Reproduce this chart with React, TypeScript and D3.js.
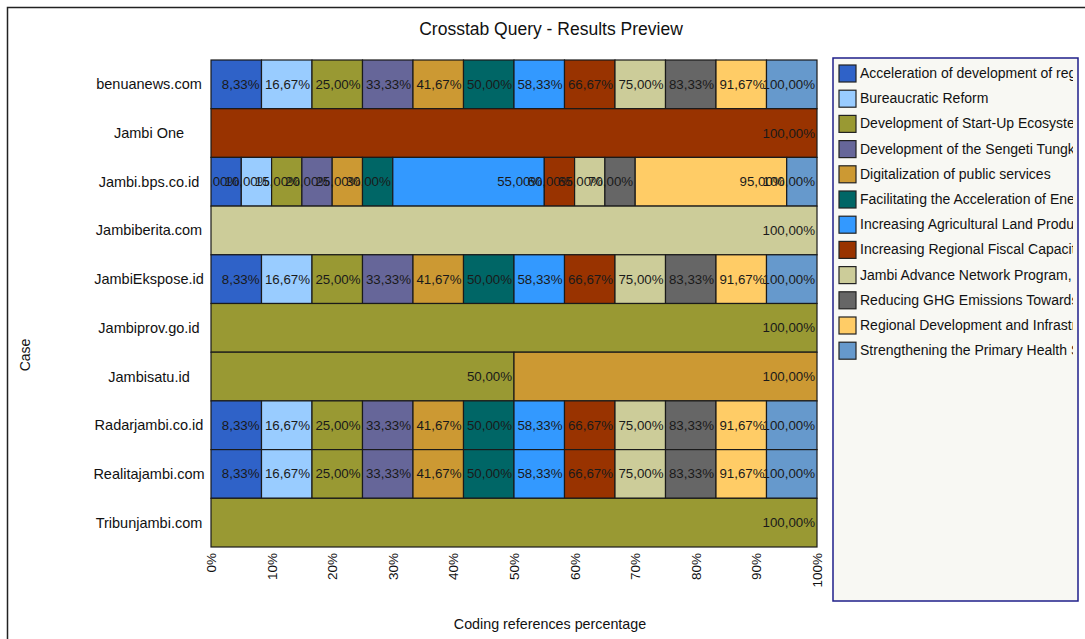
import { useEffect, useRef } from "react";
import * as d3 from "d3";

const WIDTH = 1085;
const HEIGHT = 639;
const PLOT = { LEFT: 211, RIGHT: 817, TOP: 60, BOTTOM: 547 };

const cases = [
  "benuanews.com",
  "Jambi One",
  "Jambi.bps.co.id",
  "Jambiberita.com",
  "JambiEkspose.id",
  "Jambiprov.go.id",
  "Jambisatu.id",
  "Radarjambi.co.id",
  "Realitajambi.com",
  "Tribunjambi.com",
];

const categories = [
  "Acceleration of development of regional infrastructure",
  "Bureaucratic Reform",
  "Development of Start-Up Ecosystem",
  "Development of the Sengeti Tungkal Corridor",
  "Digitalization of public services",
  "Facilitating the Acceleration of Energy Transition",
  "Increasing Agricultural Land Productivity",
  "Increasing Regional Fiscal Capacity",
  "Jambi Advance Network Program, and",
  "Reducing GHG Emissions Towards Net Zero",
  "Regional Development and Infrastructure",
  "Strengthening the Primary Health System",
];

const colors = [
  "#2F62C8",
  "#99CCFF",
  "#999933",
  "#666699",
  "#CC9933",
  "#006666",
  "#3399FF",
  "#993300",
  "#CCCC99",
  "#666666",
  "#FFCC66",
  "#6699CC",
];

// coding references per case, one count per category (same order as categories)
const references: number[][] = [
  [1, 1, 1, 1, 1, 1, 1, 1, 1, 1, 1, 1],
  [0, 0, 0, 0, 0, 0, 0, 1, 0, 0, 0, 0],
  [1, 1, 1, 1, 1, 1, 5, 1, 1, 1, 5, 1],
  [0, 0, 0, 0, 0, 0, 0, 0, 1, 0, 0, 0],
  [1, 1, 1, 1, 1, 1, 1, 1, 1, 1, 1, 1],
  [0, 0, 1, 0, 0, 0, 0, 0, 0, 0, 0, 0],
  [0, 0, 1, 0, 1, 0, 0, 0, 0, 0, 0, 0],
  [1, 1, 1, 1, 1, 1, 1, 1, 1, 1, 1, 1],
  [1, 1, 1, 1, 1, 1, 1, 1, 1, 1, 1, 1],
  [0, 0, 1, 0, 0, 0, 0, 0, 0, 0, 0, 0],
];

const xTicks = [0, 10, 20, 30, 40, 50, 60, 70, 80, 90, 100];

const FONT = "'Liberation Sans', Arial, sans-serif";

const fmt = (v: number) => v.toFixed(2).replace(".", ",") + "%";

const App = () => {
  const svgRef = useRef<SVGSVGElement | null>(null);

  useEffect(() => {
    document.body.style.margin = "0";
    const svg = d3.select(svgRef.current);
    svg.selectAll("*").remove();

    const xScale = d3.scaleLinear().domain([0, 100]).range([PLOT.LEFT, PLOT.RIGHT]);
    const yScale = d3
      .scaleBand<string>()
      .domain(cases)
      .range([PLOT.TOP, PLOT.BOTTOM])
      .paddingInner(0);

    // outer frame
    svg
      .append("rect")
      .attr("x", 7.5)
      .attr("y", 7.5)
      .attr("width", WIDTH + 20)
      .attr("height", HEIGHT + 20)
      .attr("fill", "#ffffff")
      .attr("stroke", "#222")
      .attr("stroke-width", 1.5);

    svg
      .append("text")
      .attr("x", 551)
      .attr("y", 35)
      .attr("text-anchor", "middle")
      .style("font-family", FONT)
      .style("font-size", "17.5px")
      .attr("fill", "#111")
      .text("Crosstab Query - Results Preview");

    svg
      .append("defs")
      .append("clipPath")
      .attr("id", "plot-clip")
      .append("rect")
      .attr("x", PLOT.LEFT)
      .attr("y", PLOT.TOP - 2)
      .attr("width", PLOT.RIGHT - PLOT.LEFT + 2)
      .attr("height", PLOT.BOTTOM - PLOT.TOP + 4);

    const bars = svg.append("g");
    const labels = svg.append("g").attr("clip-path", "url(#plot-clip)");

    cases.forEach((c, ci) => {
      const counts = references[ci];
      const total = d3.sum(counts);
      let acc = 0;
      counts.forEach((n, k) => {
        if (n === 0) return;
        const start = acc;
        acc += (n / total) * 100;
        const y0 = yScale(c)!;
        bars
          .append("rect")
          .attr("x", xScale(start))
          .attr("y", y0)
          .attr("width", xScale(acc) - xScale(start))
          .attr("height", yScale.bandwidth())
          .attr("fill", colors[k])
          .attr("stroke", "#1a1a1a")
          .attr("stroke-width", 1.2);
        labels
          .append("text")
          .attr("x", xScale(acc) - 2)
          .attr("y", y0 + yScale.bandwidth() / 2 + 4.5)
          .attr("text-anchor", "end")
          .style("font-family", FONT)
          .style("font-size", "13.3px")
          .attr("fill", "#1a1a1a")
          .text(fmt(acc));
      });
    });

    // category labels
    svg
      .append("g")
      .selectAll("text")
      .data(cases)
      .join("text")
      .attr("x", 149)
      .attr("y", (d) => yScale(d)! + yScale.bandwidth() / 2 + 5)
      .attr("text-anchor", "middle")
      .style("font-family", FONT)
      .style("font-size", "14.5px")
      .attr("fill", "#111")
      .text((d) => d);

    // x tick labels
    svg
      .append("g")
      .selectAll("text")
      .data(xTicks)
      .join("text")
      .attr("transform", (d) => `translate(${xScale(d) + 5}, 553) rotate(-90)`)
      .attr("text-anchor", "end")
      .style("font-family", FONT)
      .style("font-size", "13.5px")
      .attr("fill", "#111")
      .text((d) => `${d}%`);

    svg
      .append("text")
      .attr("x", 550)
      .attr("y", 629)
      .attr("text-anchor", "middle")
      .style("font-family", FONT)
      .style("font-size", "14.3px")
      .attr("fill", "#111")
      .text("Coding references percentage");

    svg
      .append("text")
      .attr("transform", `translate(30, 355) rotate(-90)`)
      .attr("text-anchor", "middle")
      .style("font-family", FONT)
      .style("font-size", "14px")
      .attr("fill", "#111")
      .text("Case");

    // legend
    const LEG = { X: 833, Y: 58, W: 245, H: 543 };
    svg
      .append("rect")
      .attr("x", LEG.X)
      .attr("y", LEG.Y)
      .attr("width", LEG.W)
      .attr("height", LEG.H)
      .attr("fill", "#F8F8F3")
      .attr("stroke", "#1f1f8a")
      .attr("stroke-width", 1.5);

    svg
      .select("defs")
      .append("clipPath")
      .attr("id", "legend-clip")
      .append("rect")
      .attr("x", LEG.X)
      .attr("y", LEG.Y)
      .attr("width", LEG.W - 5)
      .attr("height", LEG.H);

    const legend = svg.append("g").attr("clip-path", "url(#legend-clip)");
    categories.forEach((cat, i) => {
      const cy = 73 + i * 25.2;
      legend
        .append("rect")
        .attr("x", 839)
        .attr("y", cy - 8)
        .attr("width", 17)
        .attr("height", 17)
        .attr("fill", colors[i])
        .attr("stroke", "#222")
        .attr("stroke-width", 1.2);
      legend
        .append("text")
        .attr("x", 860)
        .attr("y", cy + 5)
        .style("font-family", FONT)
        .style("font-size", "14px")
        .attr("fill", "#111")
        .text(cat);
    });
  }, []);

  return <svg ref={svgRef} width={WIDTH} height={HEIGHT} style={{ display: "block" }} />;
};

export default App;
